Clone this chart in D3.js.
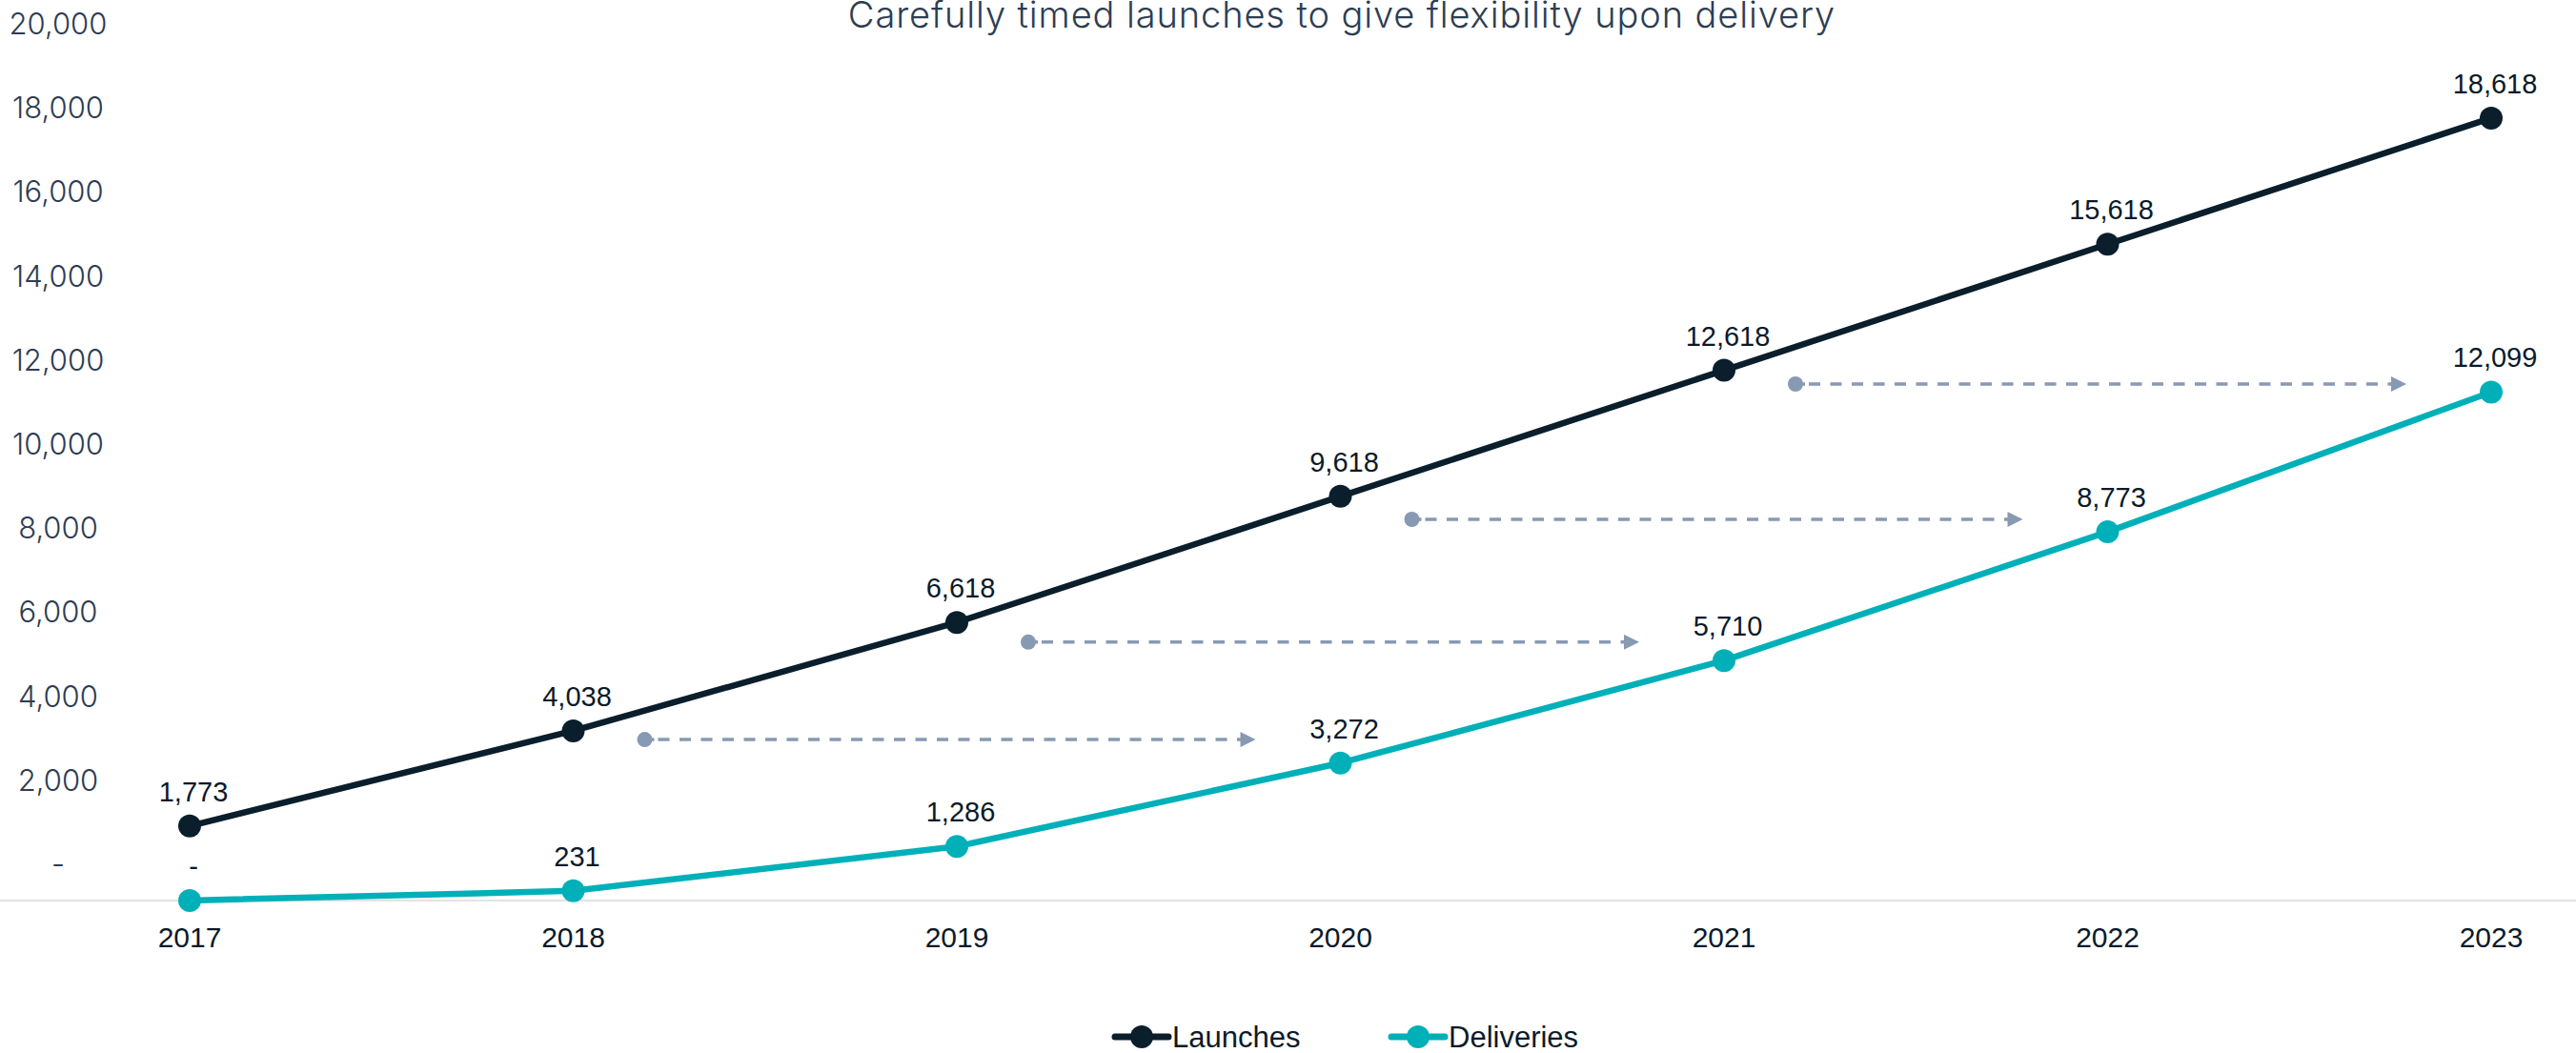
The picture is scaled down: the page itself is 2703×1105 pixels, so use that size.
<!DOCTYPE html>
<html>
	<head>
		<script src="https://d3js.org/d3.v7.min.js"></script>
		<style>
			html, body {
				margin: 0;
				padding: 0;
				background: #ffffff;
			}
			svg {
				display: block;
			}
		</style>
		<title>Launches vs deliveries</title>
	</head>
	<body>
		<div id="chart"></div>
		<script>
			const width = 2703,
				height = 1105;

			// data
			const years = ["2017", "2018", "2019", "2020", "2021", "2022", "2023"];
			const launches = [1773, 4038, 6618, 9618, 12618, 15618, 18618];
			const deliveries = [0, 231, 1286, 3272, 5710, 8773, 12099];
			const yTicks = [0, 2000, 4000, 6000, 8000, 10000, 12000, 14000, 16000, 18000, 20000];
			// dashed "shift" arrows: from year -> to year, at a value
			const arrowFrom = ["2018", "2019", "2020", "2021"];
			const arrowTo = ["2020", "2021", "2022", "2023"];
			const arrowValue = [3830, 6150, 9070, 12290];

			const darkColor = "#0a1e2c",
				tealColor = "#00b0b9",
				arrowColor = "#8899b3",
				textColor = "#0b1a2a",
				axisColor = "#2e3d52";

			const x = d3.scalePoint().domain(years).range([199, 2614]);
			const y = d3.scaleLinear().domain([0, 20000]).range([945, 63]);
			const fmt = (v) => (v === 0 ? "-" : d3.format(",")(v));

			const svg = d3
				.select("#chart")
				.append("svg")
				.attr("width", width)
				.attr("height", height);

			// title
			svg.append("text")
				.attr("x", 1408)
				.attr("y", 29)
				.attr("text-anchor", "middle")
				.style("font-family", "Inter, 'Noto Sans', sans-serif")
				.style("font-size", "38px")
				.style("font-weight", 300)
				.style("letter-spacing", "0.9px")
				.style("fill", axisColor)
				.text("Carefully timed launches to give flexibility upon delivery");

			// baseline
			svg.append("line")
				.attr("x1", 0)
				.attr("x2", width)
				.attr("y1", y(0))
				.attr("y2", y(0))
				.attr("stroke", "#e3e3e3")
				.attr("stroke-width", 2);

			// y labels (sit a little above their value, like the original)
			svg.append("g")
				.selectAll("text")
				.data(yTicks)
				.join("text")
				.attr("x", 61)
				.attr("y", (d) => y(d) - 38 + 11)
				.attr("text-anchor", "middle")
				.style("font-family", "Inter, 'Noto Sans', sans-serif")
				.style("font-size", "31px")
				.style("font-weight", 300)
				.style("fill", axisColor)
				.text(fmt);

			// x labels
			svg.append("g")
				.selectAll("text")
				.data(years)
				.join("text")
				.attr("x", (d) => x(d))
				.attr("y", 994)
				.attr("text-anchor", "middle")
				.style("font-family", "'Liberation Sans', Arial, sans-serif")
				.style("font-size", "30px")
				.style("fill", textColor)
				.text((d) => d);

			// arrows
			svg.append("defs")
				.append("marker")
				.attr("id", "head")
				.attr("viewBox", "0 0 10 10")
				.attr("refX", 10)
				.attr("refY", 5)
				.attr("markerUnits", "userSpaceOnUse")
				.attr("markerWidth", 17)
				.attr("markerHeight", 16)
				.attr("orient", "auto")
				.append("path")
				.attr("d", "M0,0L10,5L0,10Z")
				.attr("fill", arrowColor);

			const arrows = svg.append("g");
			arrowFrom.forEach((from, i) => {
				const x1 = x(from) + 75,
					x2 = x(arrowTo[i]) - 89,
					ay = y(arrowValue[i]);
				arrows.append("line")
					.attr("x1", x1 + 14)
					.attr("x2", x2)
					.attr("y1", ay)
					.attr("y2", ay)
					.attr("stroke", arrowColor)
					.attr("stroke-width", 3.5)
					.attr("stroke-dasharray", "12 10.5")
					.attr("marker-end", "url(#head)");
				arrows.append("line")
					.attr("x1", x1)
					.attr("x2", x1 + 10)
					.attr("y1", ay)
					.attr("y2", ay)
					.attr("stroke", arrowColor)
					.attr("stroke-width", 3.5);
				arrows.append("circle")
					.attr("cx", x1)
					.attr("cy", ay)
					.attr("r", 8)
					.attr("fill", arrowColor);
			});

			// series
			const series = [
				{ name: "Launches", values: launches, color: darkColor },
				{ name: "Deliveries", values: deliveries, color: tealColor },
			];

			const line = d3
				.line()
				.x((d, i) => x(years[i]))
				.y((d) => y(d));

			series.forEach((s) => {
				const g = svg.append("g");
				g.append("path")
					.datum(s.values)
					.attr("d", line)
					.attr("fill", "none")
					.attr("stroke", s.color)
					.attr("stroke-width", 6.5)
					.attr("stroke-linejoin", "round");
				g.selectAll("circle")
					.data(s.values)
					.join("circle")
					.attr("cx", (d, i) => x(years[i]))
					.attr("cy", (d) => y(d))
					.attr("r", 12)
					.attr("fill", s.color);
				g.selectAll("text")
					.data(s.values)
					.join("text")
					.attr("x", (d, i) => x(years[i]) + 4)
					.attr("y", (d) => y(d) - 26)
					.attr("text-anchor", "middle")
					.style("font-family", "'Liberation Sans', Arial, sans-serif")
					.style("font-size", "29px")
					.style("fill", textColor)
					.text(fmt);
			});

			// legend
			const legendX = [1170, 1460];
			const legend = svg
				.append("g")
				.selectAll("g")
				.data(series)
				.join("g")
				.attr("transform", (d, i) => `translate(${legendX[i]},1088)`);
			legend.append("line")
				.attr("x1", 0)
				.attr("x2", 56)
				.attr("stroke", (d) => d.color)
				.attr("stroke-width", 7)
				.attr("stroke-linecap", "round");
			legend.append("circle")
				.attr("cx", 28)
				.attr("r", 12)
				.attr("fill", (d) => d.color);
			legend.append("text")
				.attr("x", 60)
				.attr("y", 11)
				.style("font-family", "'Liberation Sans', Arial, sans-serif")
				.style("font-size", "31px")
				.style("fill", textColor)
				.text((d) => d.name);
		</script>
	</body>
</html>
